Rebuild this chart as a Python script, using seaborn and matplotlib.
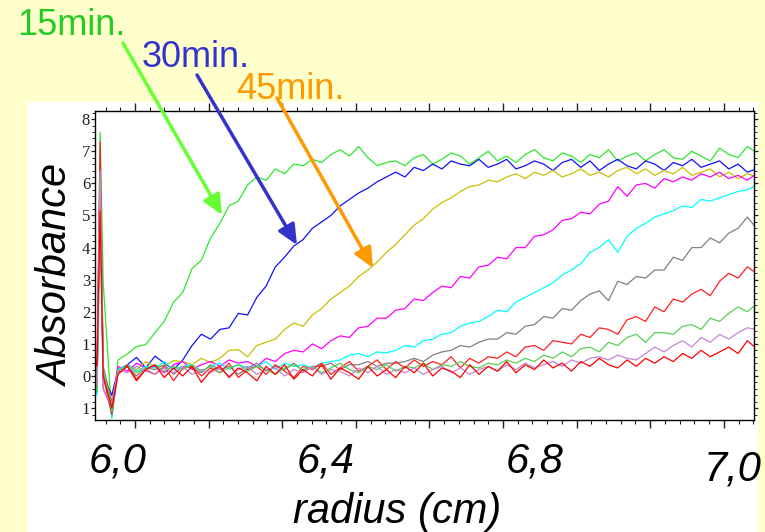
import numpy as np
import pandas as pd
import matplotlib
matplotlib.use("Agg")
import matplotlib.pyplot as plt
import seaborn as sns
from matplotlib.patches import Rectangle, FancyArrowPatch, ArrowStyle
from matplotlib.ticker import FixedLocator, MultipleLocator, FixedFormatter

# radial sampling of the scans (cm)
radius = np.round(6.0 + 0.015 * np.arange(70), 3)
# meniscus region, just left of the grid
menisc_r = [5.961, 5.966, 5.971, 5.976, 5.990]

scans = ["15min", "30min", "45min", "60min", "75min",
         "90min", "105min", "120min", "135min", "150min"]

menisc = {
    "15min": [0.8, -0.5, 7.6, 2.9, -1.3],
    "30min": [0.3, -0.3, 6.0, 0.0, -0.6],
    "45min": [0.0, -0.4, 6.75, 0.2, -0.9],
    "60min": [0.5, -0.4, 5.5, -0.4, -1.0],
    "75min": [0.2, -0.6, 4.8, 0.1, -1.3],
    "90min": [0.6, -0.2, 6.55, 0.3, -0.8],
    "105min": [0.7, 0.4, 7.3, 0.0, -1.2],
    "120min": [0.9, -0.5, 6.2, 0.2, -1.1],
    "135min": [0.4, -0.3, 6.4, -0.4, -0.9],
    "150min": [0.6, 0.3, 5.15, 0.0, -1.0],
}

abs_15 = [0.5, 0.68, 0.92, 0.98, 1.35, 1.7, 2.3, 2.6, 3.35, 3.6,
          4.3, 4.75, 5.3, 5.45, 5.95, 6.2, 6.1, 6.45, 6.3, 6.6,
          6.55, 6.75, 6.65, 6.9, 7.05, 6.85, 7.15, 6.8, 6.55, 6.65,
          6.7, 6.55, 6.8, 6.9, 6.6, 6.75, 6.95, 6.85, 6.6, 6.8,
          7.0, 6.7, 6.85, 6.65, 6.9, 7.05, 6.8, 6.7, 6.95, 6.85,
          6.65, 6.9, 6.8, 7.05, 6.7, 6.85, 6.95, 6.7, 6.9, 7.05,
          6.8, 6.75, 7.0, 6.85, 6.7, 7.1, 6.9, 6.8, 7.15, 6.95]
abs_30 = [0.2, 0.35, 0.58, 0.25, 0.62, 0.4, 0.2, 0.5, 0.95, 1.3,
          1.15, 1.45, 1.5, 1.95, 1.9, 2.45, 2.8, 3.4, 3.7, 4.05,
          4.25, 4.6, 4.8, 5.0, 5.3, 5.5, 5.7, 5.85, 6.05, 6.2,
          6.35, 6.2, 6.5, 6.4, 6.6, 6.45, 6.7, 6.6, 6.55, 6.75,
          6.5, 6.6, 6.75, 6.45, 6.55, 6.7, 6.6, 6.4, 6.65, 6.75,
          6.5, 6.7, 6.4, 6.6, 6.75, 6.55, 6.45, 6.7, 6.6, 6.4,
          6.65, 6.55, 6.75, 6.5, 6.6, 6.7, 6.45, 6.6, 6.35, 6.45]
abs_45 = [0.15, 0.35, 0.2, 0.45, 0.3, 0.32, 0.48, 0.45, 0.35, 0.55,
          0.42, 0.55, 0.8, 0.82, 0.6, 0.95, 1.05, 1.15, 1.45, 1.65,
          1.55, 1.9, 2.1, 2.4, 2.6, 2.8, 3.1, 3.3, 3.55, 3.85,
          4.1, 4.4, 4.7, 4.9, 5.2, 5.4, 5.55, 5.75, 5.9, 5.95,
          6.1, 6.05, 6.2, 6.3, 6.15, 6.35, 6.25, 6.4, 6.2, 6.3,
          6.45, 6.25, 6.35, 6.2, 6.4, 6.5, 6.3, 6.45, 6.25, 6.4,
          6.3, 6.5, 6.25, 6.35, 6.45, 6.2, 6.35, 6.15, 6.3, 6.2]
abs_60 = [0.3, 0.15, 0.4, 0.25, 0.3, 0.1, 0.35, 0.45, 0.2, 0.35,
          0.45, 0.3, 0.5, 0.4, 0.45, 0.3, 0.55, 0.45, 0.7, 0.8,
          0.75, 1.0, 0.85, 1.1, 1.25, 1.2, 1.5, 1.55, 1.8, 1.8,
          2.05, 2.1, 2.4, 2.35, 2.6, 2.8, 2.75, 3.1, 3.05, 3.4,
          3.45, 3.7, 3.65, 4.0, 4.0, 4.35, 4.4, 4.55, 4.85, 4.9,
          5.1, 5.05, 5.35, 5.45, 5.9, 5.6, 5.95, 6.0, 5.85, 6.15,
          6.05, 6.2, 6.1, 6.3, 6.2, 6.35, 6.15, 6.25, 6.1, 6.3]
abs_75 = [0.2, 0.35, 0.15, 0.3, 0.25, 0.45, 0.2, 0.3, 0.35, 0.15,
          0.3, 0.4, 0.2, 0.35, 0.25, 0.3, 0.45, 0.2, 0.4, 0.3,
          0.35, 0.25, 0.4, 0.45, 0.5, 0.65, 0.7, 0.6, 0.75, 0.72,
          0.8, 0.95, 0.9, 1.1, 1.15, 1.3, 1.35, 1.55, 1.65, 1.7,
          1.85, 2.05, 2.0, 2.3, 2.45, 2.6, 2.75, 2.9, 3.15, 3.3,
          3.5, 3.85, 4.0, 4.25, 3.85, 4.35, 4.6, 4.75, 4.95, 5.05,
          5.15, 5.3, 5.25, 5.5, 5.45, 5.55, 5.65, 5.75, 5.8, 5.95]
abs_90 = [0.1, 0.3, 0.0, 0.25, 0.2, 0.35, 0.05, 0.3, 0.25, 0.1,
          0.35, 0.2, 0.3, 0.05, 0.25, 0.4, 0.15, 0.3, 0.2, 0.4,
          0.15, 0.3, 0.3, 0.4, 0.2, 0.35, 0.35, 0.45, 0.3, 0.4,
          0.4, 0.45, 0.55, 0.45, 0.65, 0.75, 0.8, 0.95, 0.9, 1.05,
          1.15, 1.15, 1.35, 1.3, 1.55, 1.6, 1.85, 1.8, 2.1, 2.05,
          2.35, 2.55, 2.65, 2.35, 2.95, 2.85, 3.1, 3.05, 3.3, 3.3,
          3.7, 3.6, 4.0, 4.0, 4.3, 4.15, 4.45, 4.6, 4.95, 4.6]
abs_105 = [0.1, 0.35, -0.1, 0.2, 0.05, 0.3, -0.15, 0.25, 0.3, 0.0,
           0.25, 0.1, 0.4, -0.05, 0.2, 0.3, 0.05, 0.35, 0.15, -0.05,
           0.3, 0.2, 0.4, 0.05, 0.25, 0.45, 0.15, 0.3, 0.5, 0.2,
           0.45, 0.25, 0.5, 0.3, 0.45, 0.35, 0.6, 0.25, 0.55, 0.4,
           0.6, 0.55, 0.75, 0.6, 0.9, 0.95, 0.8, 1.1, 1.05, 1.0,
           1.3, 1.2, 1.5, 1.45, 1.3, 1.75, 1.85, 1.7, 2.15, 2.0,
           2.4, 2.3, 2.55, 2.7, 2.5, 2.95, 3.2, 3.05, 3.4, 3.2]
abs_120 = [0.15, 0.3, 0.1, 0.25, 0.35, 0.15, 0.3, 0.2, 0.35, 0.15,
           0.3, 0.1, 0.25, 0.35, 0.15, 0.3, 0.2, 0.05, 0.25, 0.35,
           0.2, 0.3, 0.1, 0.25, 0.4, 0.2, 0.1, 0.3, 0.2, 0.35,
           0.15, 0.3, 0.25, 0.4, 0.2, 0.35, 0.3, 0.45, 0.3, 0.25,
           0.4, 0.35, 0.5, 0.4, 0.55, 0.45, 0.65, 0.55, 0.75, 0.6,
           0.85, 0.9, 0.75, 1.05, 0.95, 1.2, 1.3, 1.05, 1.35, 1.35,
           1.3, 1.55, 1.6, 1.45, 1.8, 1.7, 1.95, 2.15, 2.0, 2.25]
abs_135 = [0.2, 0.1, 0.3, 0.15, 0.05, 0.25, 0.1, 0.3, 0.05, 0.2,
           0.1, 0.25, 0.0, 0.2, 0.3, 0.05, 0.2, 0.25, 0.0, 0.2,
           0.1, 0.3, 0.05, 0.2, 0.15, 0.0, 0.25, 0.1, 0.3, 0.05,
           0.2, 0.1, 0.25, 0.05, 0.2, 0.3, 0.1, 0.25, 0.05, 0.2,
           0.3, 0.15, 0.35, 0.2, 0.4, 0.25, 0.35, 0.45, 0.3, 0.5,
           0.4, 0.55, 0.6, 0.5, 0.65, 0.55, 0.5, 0.7, 0.9, 0.75,
           0.95, 1.1, 0.9, 1.2, 1.05, 1.3, 1.15, 1.35, 1.5, 1.45]
abs_150 = [0.05, 0.3, -0.15, 0.2, 0.35, -0.05, 0.25, 0.0, 0.3, -0.2,
           0.15, 0.3, -0.05, 0.25, 0.1, -0.15, 0.3, 0.05, 0.35, -0.1,
           0.2, 0.0, 0.35, -0.1, 0.25, 0.1, -0.1, 0.3, 0.0, 0.2,
           -0.05, 0.3, 0.1, 0.4, 0.0, 0.25, 0.15, -0.05, 0.35, 0.05,
           0.3, 0.15, 0.45, 0.1, 0.35, 0.2, 0.5, 0.25, 0.4, 0.15,
           0.45, 0.3, 0.55, 0.35, 0.25, 0.5, 0.3, 0.55, 0.4, 0.6,
           0.45, 0.7, 0.55, 0.8, 0.6, 0.75, 0.9, 0.7, 1.1, 0.85]

values = [abs_15, abs_30, abs_45, abs_60, abs_75,
          abs_90, abs_105, abs_120, abs_135, abs_150]

colors = ["#2ee82e", "#1010ff", "#c8c000", "#ff00ff", "#00ffff",
          "#808080", "#ff2020", "#55d055", "#c585d5", "#ff0000"]

frames = []
for name, vals in zip(scans, values):
    r = list(menisc_r) + list(radius)
    a = menisc[name] + vals
    frames.append(pd.DataFrame({"radius": r, "absorbance": a, "scan": name}))
df = pd.concat(frames, ignore_index=True)

sns.set_style("ticks")

W, H = 765, 532
fig = plt.figure(figsize=(W / 100, H / 100), dpi=100, facecolor="#ffffcc")
fig.add_artist(Rectangle((28 / W, 0), (758 - 28) / W, 430 / H,
                         transform=fig.transFigure, facecolor="white",
                         edgecolor="none", zorder=-1))

ax = fig.add_axes([95 / W, 1 - 420 / H, 659 / W, 309 / H])
ax.set_facecolor("white")

sns.lineplot(data=df, x="radius", y="absorbance", hue="scan",
             hue_order=scans, palette=dict(zip(scans, colors)),
             units="scan", estimator=None, sort=False, lw=0.9,
             legend=False, ax=ax)

ax.set_xlim(5.9627, 7.0308)
ax.set_ylim(-1.371, 8.255)
ax.set_xlabel("")
ax.set_ylabel("")

step = 0.11929
ax.xaxis.set_major_locator(FixedLocator(np.arange(6.02755 - step, 7.1, step)))
ax.xaxis.set_minor_locator(FixedLocator(np.arange(6.02755 - step, 7.1, step / 5)))
ax.set_xticklabels([])

yt = list(range(-1, 9))
ax.yaxis.set_major_locator(FixedLocator(yt))
ax.yaxis.set_major_formatter(FixedFormatter([str(abs(v)) for v in yt]))
ax.yaxis.set_minor_locator(MultipleLocator(0.2))

for s in ax.spines.values():
    s.set_visible(True)
    s.set_linewidth(1.0)
    s.set_color("black")

ax.tick_params(axis="x", which="major", direction="out", length=5.8, width=1.0,
               top=True, bottom=True, labelbottom=False, color="#222222")
ax.tick_params(axis="x", which="minor", direction="out", length=3.2, width=0.8,
               top=True, bottom=True, color="#222222")
ax.tick_params(axis="y", which="major", direction="out", length=3.0, width=0.9,
               left=True, right=True, labelsize=12, pad=0.5,
               labelfontfamily="Liberation Serif", labelcolor="#222222",
               color="#222222")
ax.tick_params(axis="y", which="minor", direction="out", length=2.0, width=0.7,
               left=True, right=True, color="#222222")


def ftext(x, y, s, **kw):
    fig.text(x / W, 1 - y / H, s, **kw)


big = dict(family="Liberation Sans", style="italic", fontsize=30, color="black")
ftext(118, 462, "6,0", ha="center", va="center", **big)
ftext(326, 462, "6,4", ha="center", va="center", **big)
ftext(535, 462, "6,8", ha="center", va="center", **big)
ftext(733, 469, "7,0", ha="center", va="center", **big)
ftext(397, 512, "radius (cm)", ha="center", va="center", **big)
ftext(57, 276, "Absorbance", ha="center", va="center", rotation=90, **big)

lab = dict(family="Liberation Sans", fontsize=26)
ftext(17, 35, "15min.", ha="left", va="baseline", color="#22cc22", **lab)
ftext(142, 67, "30min.", ha="left", va="baseline", color="#3333cc", **lab)
ftext(236, 99, "45min.", ha="left", va="baseline", color="#ff9900", **lab)

arrows = [((123, 43), (222, 215), "#66ff33"),
          ((197, 75), (297, 245), "#3333cc"),
          ((277, 98), (373, 268), "#ff9900")]
for (x0, y0), (x1, y1), c in arrows:
    arr = FancyArrowPatch((x0 / W, 1 - y0 / H), (x1 / W, 1 - y1 / H),
                          transform=fig.transFigure,
                          arrowstyle=ArrowStyle("-|>", head_length=1.2, head_width=0.55),
                          mutation_scale=10, lw=2.5, color=c,
                          shrinkA=0, shrinkB=0, zorder=5)
    fig.add_artist(arr)

fig.savefig("out.png", dpi=100, facecolor=fig.get_facecolor())
